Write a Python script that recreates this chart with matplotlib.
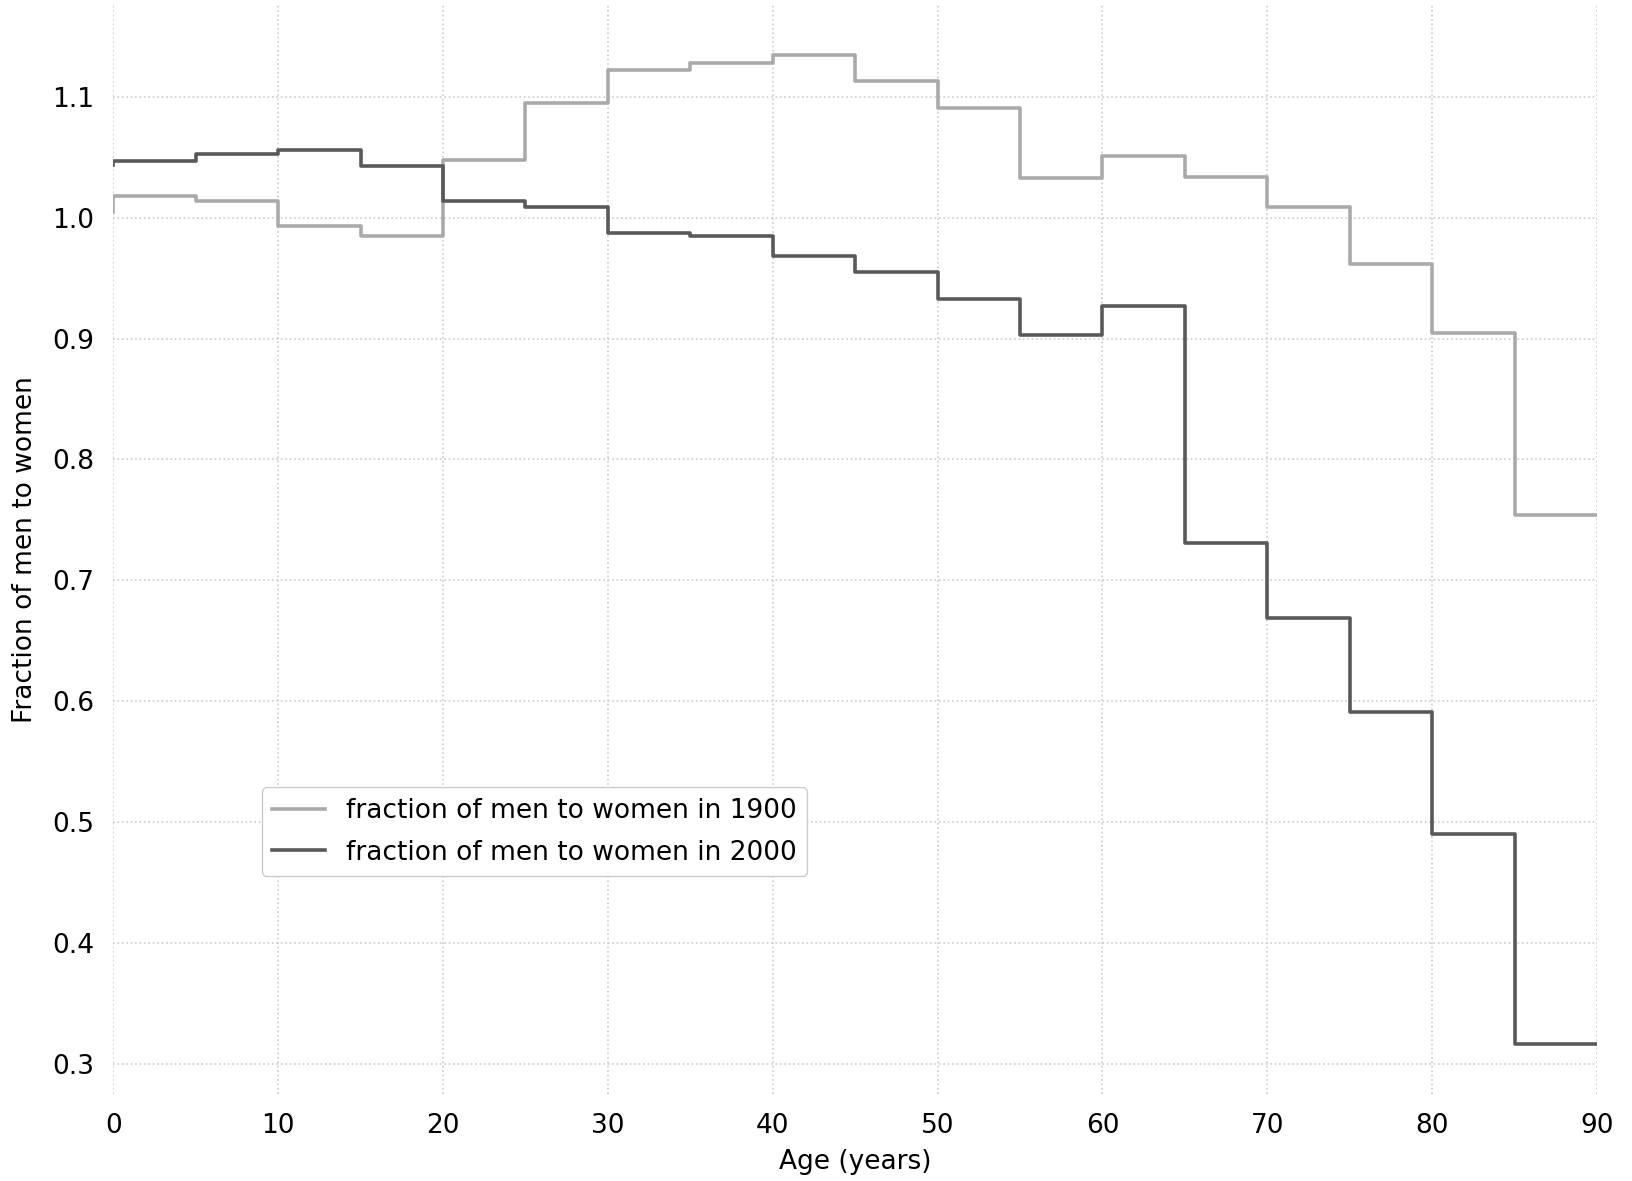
import numpy as np
import matplotlib
matplotlib.use("Agg")
import matplotlib.pyplot as plt

# age groups (upper edge of each 5-year bin), step drawn with where='pre'
age = [0, 5, 10, 15, 20, 25, 30, 35, 40, 45, 50, 55, 60, 65, 70, 75, 80, 85, 90]
ratio_1900 = [1.005, 1.018, 1.014, 0.993, 0.985, 1.048, 1.095, 1.122, 1.128, 1.135,
              1.113, 1.091, 1.033, 1.051, 1.034, 1.009, 0.962, 0.905, 0.754]
ratio_2000 = [1.044, 1.047, 1.053, 1.056, 1.043, 1.014, 1.009, 0.987, 0.985, 0.968,
              0.955, 0.933, 0.903, 0.927, 0.731, 0.669, 0.591, 0.490, 0.316]

plt.rcParams['font.family'] = ['DejaVu Sans']
fig = plt.figure(figsize=(16.32, 11.81), dpi=100)
ax = fig.add_axes([0.0694, 0.0737, 0.9092, 0.922])

ax.step(age, ratio_1900, color="#aaaaaa", linewidth=2.6, label="fraction of men to women in 1900")
ax.step(age, ratio_2000, color="#595959", linewidth=2.6, label="fraction of men to women in 2000")

ax.set_xlim(0, 90)
ax.set_xticks(np.arange(0, 91, 10))
ax.set_yticks(np.arange(0.3, 1.11, 0.1))
ax.grid(True, ls=':', color="#cccccc", lw=1.2)
for s in ax.spines.values():
    s.set_visible(False)
ax.tick_params(length=0, labelsize=19, pad=14)
ax.set_xlabel("Age (years)", fontsize=19, labelpad=7)
ax.set_ylabel("Fraction of men to women", fontsize=19, labelpad=10)

ax.legend(loc='lower left', bbox_to_anchor=(0.1, 0.2), borderaxespad=0, fontsize=19,
          framealpha=1, edgecolor="#cccccc", fancybox=True, handlelength=2.0,
          labelspacing=0.6)

fig.savefig("out.png", dpi=100)
